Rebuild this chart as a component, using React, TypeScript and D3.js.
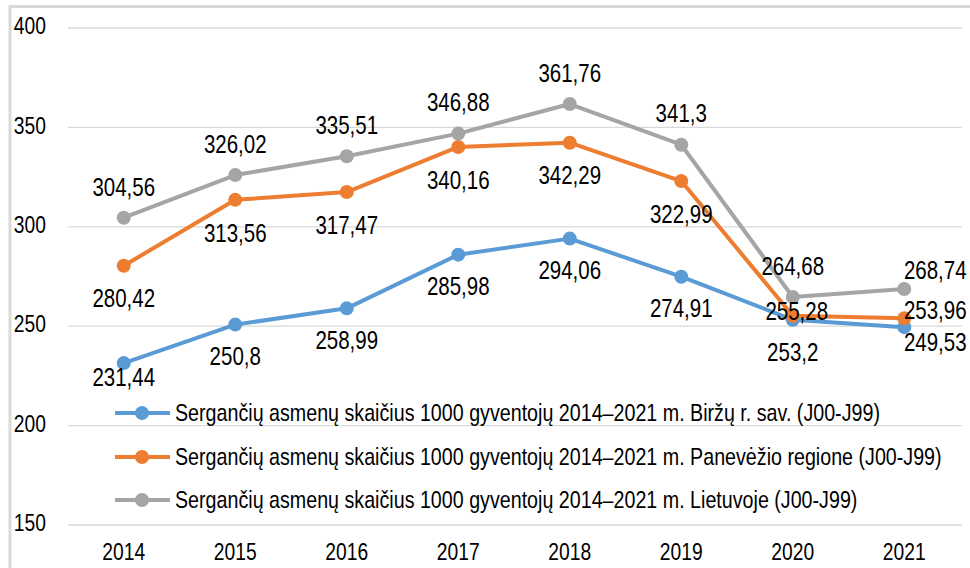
import React from "react";
import * as d3 from "d3";

const years = ["2014", "2015", "2016", "2017", "2018", "2019", "2020", "2021"];
const birzai = [231.44, 250.8, 258.99, 285.98, 294.06, 274.91, 253.2, 249.53];
const panevezys = [280.42, 313.56, 317.47, 340.16, 342.29, 322.99, 255.28, 253.96];
const lietuva = [304.56, 326.02, 335.51, 346.88, 361.76, 341.3, 264.68, 268.74];
const yTicks = [150, 200, 250, 300, 350, 400];
const seriesNames = [
  "Sergančių asmenų skaičius 1000 gyventojų 2014–2021 m. Biržų r. sav. (J00-J99)",
  "Sergančių asmenų skaičius 1000 gyventojų 2014–2021 m. Panevėžio regione (J00-J99)",
  "Sergančių asmenų skaičius 1000 gyventojų 2014–2021 m. Lietuvoje (J00-J99)",
];

const W = 970;
const H = 568;
const FONT = "'Liberation Sans', Arial, sans-serif";

// label placement (layout only): default vertical offset per series and per-point tweaks
const labelLayout = [
  { dy: 32, tweaks: { 0: { dx: 0, dy: 14 }, 7: { dx: 31, dy: 15 } } as Record<number, { dx: number; dy: number }> },
  { dy: 33, tweaks: { 6: { dx: 4, dy: -4 }, 7: { dx: 31, dy: -8 } } as Record<number, { dx: number; dy: number }> },
  { dy: -31, tweaks: { 7: { dx: 31, dy: -19 } } as Record<number, { dx: number; dy: number }> },
];

const colors = ["#5B9BD5", "#ED7D31", "#A5A5A5"];

function T({ x, y, size, sx, anchor, children }: any) {
  return (
    <text
      transform={`translate(${x},${y}) scale(${sx},1)`}
      fontFamily={FONT}
      fontSize={size}
      textAnchor={anchor}
      dy="0.35em"
      fill="#000"
    >
      {children}
    </text>
  );
}

export default function App() {
  const x = d3.scaleBand<string>().domain(years).range([68, 960]).padding(0);
  const y = d3.scaleLinear().domain([150, 400]).range([525, 28]);
  const cx = (yr: string) => (x(yr) as number) + x.bandwidth() / 2;
  const series = [birzai, panevezys, lietuva];
  const line = d3
    .line<number>()
    .x((_, i) => cx(years[i]))
    .y((d) => y(d));
  const fmt = (v: number) => String(v).replace(".", ",");

  const legendY = [413, 457, 500];

  return (
    <svg
      width={W}
      height={H}
      style={{ position: "absolute", left: 0, top: 0, background: "#fff" }}
    >
      <rect x={0} y={0} width={W} height={H} fill="#fff" />
      <rect x={10} y={6.5} width={W + 20} height={H + 20} fill="none" stroke="#d9d9d9" strokeWidth={3} />
      {yTicks.map((t) => (
        <g key={t}>
          <line x1={68} x2={962} y1={y(t)} y2={y(t)} stroke="#d9d9d9" strokeWidth={1.3} />
          <T x={46} y={y(t) - 2} size={23.5} sx={0.82} anchor="end">
            {t}
          </T>
        </g>
      ))}
      {years.map((yr) => (
        <T key={yr} x={cx(yr)} y={552} size={23.5} sx={0.82} anchor="middle">
          {yr}
        </T>
      ))}
      {/* legend */}
      {seriesNames.map((name, i) => (
        <g key={name}>
          <line x1={115} x2={170} y1={legendY[i]} y2={legendY[i]} stroke={colors[i]} strokeWidth={4} />
          <circle cx={142} cy={legendY[i]} r={7} fill={colors[i]} />
          <T x={175} y={legendY[i]} size={24} sx={0.82} anchor="start">
            {name}
          </T>
        </g>
      ))}
      {series.map((s, si) => (
        <g key={si}>
          <path d={line(s) || ""} fill="none" stroke={colors[si]} strokeWidth={4} strokeLinejoin="round" />
          {s.map((v, i) => (
            <circle key={i} cx={cx(years[i])} cy={y(v)} r={7} fill={colors[si]} />
          ))}
        </g>
      ))}
      {series.map((s, si) =>
        s.map((v, i) => {
          const tw = labelLayout[si].tweaks[i];
          const dx = tw ? tw.dx : 0;
          const dy = tw ? tw.dy : labelLayout[si].dy;
          return (
            <T key={`${si}-${i}`} x={cx(years[i]) + dx} y={y(v) + dy} size={25} sx={0.82} anchor="middle">
              {fmt(v)}
            </T>
          );
        })
      )}
    </svg>
  );
}
